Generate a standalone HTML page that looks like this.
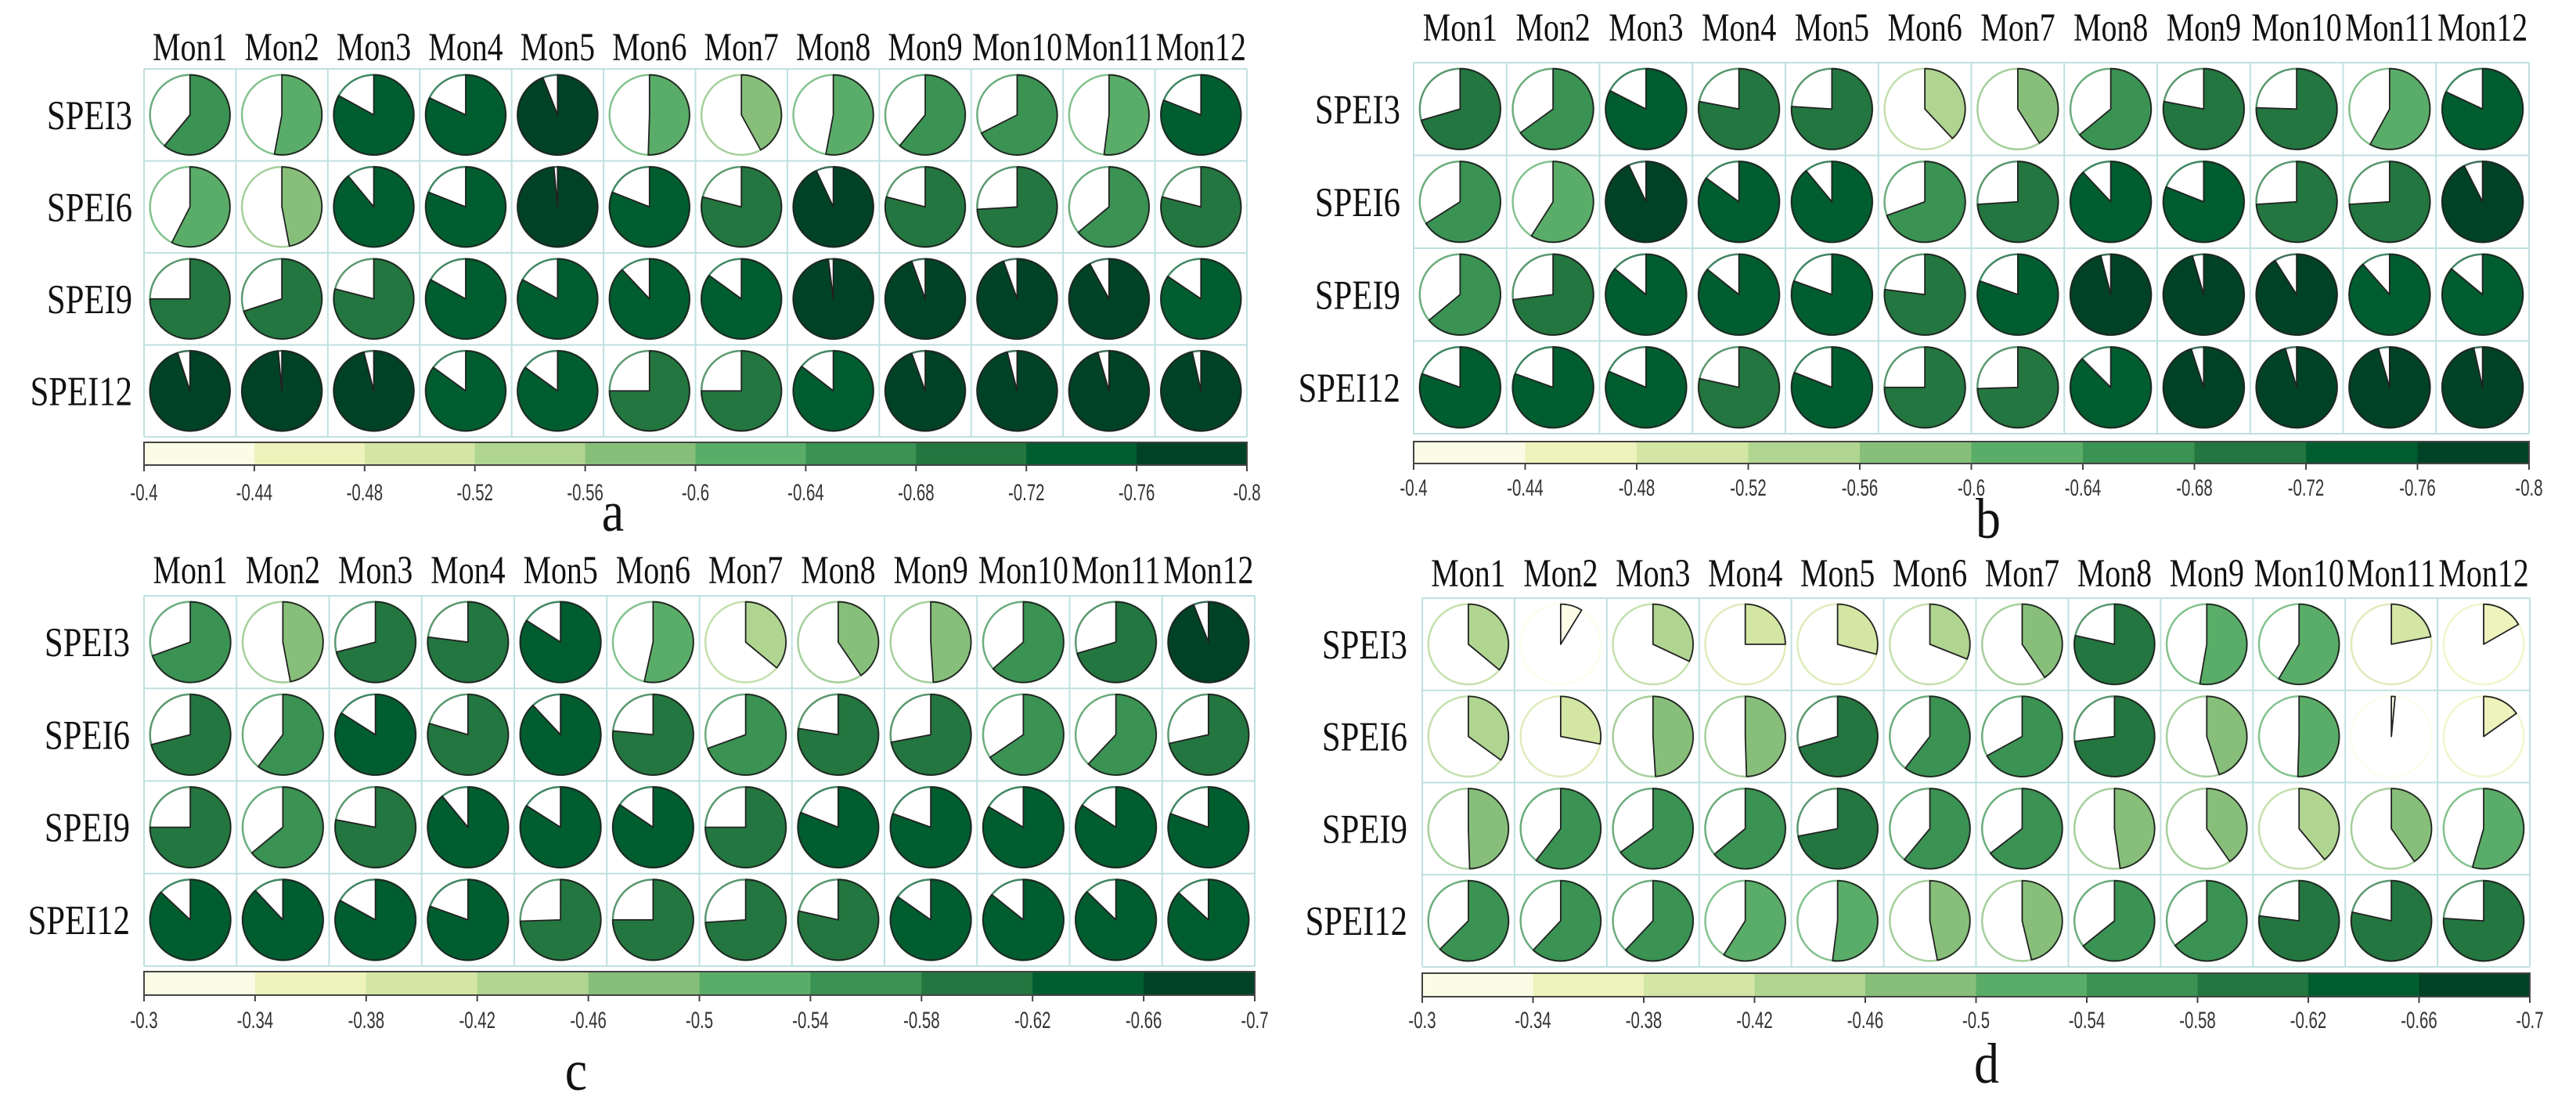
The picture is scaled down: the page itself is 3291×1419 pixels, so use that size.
<!DOCTYPE html>
<html><head><meta charset="utf-8">
<style>
html,body{margin:0;padding:0;background:#fff;}
svg{display:block;}
.ml{font-family:"Liberation Serif",serif;font-size:42px;fill:#111;}
.rl{font-family:"Liberation Serif",serif;font-size:44px;fill:#111;}
.tk{font-family:"Liberation Sans",sans-serif;font-size:24px;fill:#333;font-weight:bold;font-weight:500;}
.lt{font-family:"Liberation Serif",serif;font-size:64px;fill:#111;}
</style></head>
<body>
<svg id="fig" width="3291" height="1419" viewBox="0 0 3291 1419" xmlns="http://www.w3.org/2000/svg">
<rect width="3291" height="1419" fill="#fff"/>
</svg>
<script>
const months = ["Mon1","Mon2","Mon3","Mon4","Mon5","Mon6","Mon7","Mon8","Mon9","Mon10","Mon11","Mon12"];
const indices = ["SPEI3","SPEI6","SPEI9","SPEI12"];
const binColors = ["#fbfce6","#eef2bb","#d3e6a4","#b0d591","#87bf7a","#5aad68","#3a9253","#23763f","#005d2f","#004225"];
const ticksAB = ["-0.4","-0.44","-0.48","-0.52","-0.56","-0.6","-0.64","-0.68","-0.72","-0.76","-0.8"];
const ticksCD = ["-0.3","-0.34","-0.38","-0.42","-0.46","-0.5","-0.54","-0.58","-0.62","-0.66","-0.7"];

const a_spei3  = [-0.644,-0.612,-0.732,-0.728,-0.776,-0.602,-0.568,-0.612,-0.644,-0.670,-0.608,-0.724];
const a_spei6  = [-0.630,-0.588,-0.756,-0.724,-0.794,-0.724,-0.716,-0.772,-0.716,-0.696,-0.656,-0.716];
const a_spei9  = [-0.700,-0.680,-0.716,-0.732,-0.732,-0.752,-0.740,-0.792,-0.778,-0.778,-0.768,-0.738];
const a_spei12 = [-0.780,-0.794,-0.784,-0.740,-0.740,-0.700,-0.700,-0.742,-0.778,-0.784,-0.782,-0.786];

const b_spei3  = [-0.682,-0.660,-0.730,-0.712,-0.704,-0.552,-0.564,-0.656,-0.712,-0.702,-0.632,-0.728];
const b_spei6  = [-0.664,-0.636,-0.772,-0.740,-0.756,-0.678,-0.696,-0.752,-0.724,-0.696,-0.696,-0.770];
const b_spei9  = [-0.656,-0.692,-0.744,-0.743,-0.722,-0.708,-0.722,-0.784,-0.782,-0.764,-0.754,-0.744];
const b_spei12 = [-0.722,-0.722,-0.726,-0.714,-0.724,-0.700,-0.698,-0.750,-0.780,-0.782,-0.782,-0.786];

const c_spei3  = [-0.578,-0.488,-0.584,-0.608,-0.636,-0.514,-0.444,-0.462,-0.496,-0.554,-0.582,-0.676];
const c_spei6  = [-0.584,-0.542,-0.636,-0.618,-0.652,-0.606,-0.578,-0.610,-0.588,-0.562,-0.548,-0.586];
const c_spei9  = [-0.600,-0.556,-0.612,-0.656,-0.636,-0.638,-0.600,-0.624,-0.622,-0.634,-0.637,-0.622];
const c_spei12 = [-0.648,-0.652,-0.632,-0.622,-0.598,-0.600,-0.596,-0.614,-0.639,-0.643,-0.649,-0.647];

const d_spei3  = [-0.444,-0.335,-0.428,-0.400,-0.416,-0.424,-0.462,-0.614,-0.511,-0.534,-0.388,-0.367];
const d_spei6  = [-0.440,-0.412,-0.496,-0.498,-0.582,-0.542,-0.568,-0.592,-0.480,-0.502,-0.306,-0.361];
const d_spei9  = [-0.498,-0.542,-0.560,-0.556,-0.588,-0.544,-0.558,-0.491,-0.461,-0.456,-0.461,-0.518];
const d_spei12 = [-0.550,-0.548,-0.548,-0.536,-0.508,-0.488,-0.485,-0.557,-0.558,-0.608,-0.614,-0.604];

const NS = "http://www.w3.org/2000/svg";
const svg = document.getElementById("fig");
function mk(tag, attrs, parent){
  const e = document.createElementNS(NS, tag);
  for (const k in attrs) e.setAttribute(k, attrs[k]);
  (parent||svg).appendChild(e);
  return e;
}
function txt(parent, x, y, sx, sy, anchor, cls, s){
  const t = mk("text", {x:0, y:0, transform:"translate(" + x + "," + y + ") scale(" + sx + "," + sy + ")", "text-anchor":anchor, class:cls}, parent);
  t.textContent = s;
  return t;
}

const panels = [
  {id:"a", lo:0.4, hi:0.8, ticks:ticksAB, rows:[a_spei3,a_spei6,a_spei9,a_spei12],
   gx0:184, gx1:1593, gy0:88, gy1:558, cb0:565, cb1:594, tickY:639, colY:77, rowR:169, lx:783, ly:678},
  {id:"b", lo:0.4, hi:0.8, ticks:ticksAB, rows:[b_spei3,b_spei6,b_spei9,b_spei12],
   gx0:1806, gx1:3231, gy0:80, gy1:554, cb0:564, cb1:592, tickY:633, colY:52, rowR:1789, lx:2540, ly:687},
  {id:"c", lo:0.3, hi:0.7, ticks:ticksCD, rows:[c_spei3,c_spei6,c_spei9,c_spei12],
   gx0:184, gx1:1603, gy0:761, gy1:1234, cb0:1241, cb1:1271, tickY:1313, colY:745, rowR:166, lx:736, ly:1392},
  {id:"d", lo:0.3, hi:0.7, ticks:ticksCD, rows:[d_spei3,d_spei6,d_spei9,d_spei12],
   gx0:1817, gx1:3232, gy0:764, gy1:1235, cb0:1243, cb1:1273, tickY:1313, colY:749, rowR:1798, lx:2538, ly:1383}
];

function colorFor(p, v){
  const t = (Math.abs(v) - p.lo) / (p.hi - p.lo);
  let b = Math.floor(t * binColors.length);
  b = Math.max(0, Math.min(binColors.length - 1, b));
  return binColors[b];
}
function fracFor(p, v){
  const t = (Math.abs(v) - p.lo) / (p.hi - p.lo);
  return Math.max(0, Math.min(1, t));
}

panels.forEach(p => {
  const g = mk("g", {});
  
  
  const cw = (p.gx1 - p.gx0) / months.length;
  const rh = (p.gy1 - p.gy0) / indices.length;
  const xCenter = i => p.gx0 + cw * (i + 0.5);
  const yCenter = j => p.gy0 + rh * (j + 0.5);
  const r = Math.min(cw, rh) * 0.435;

  const grid = mk("g", {stroke:"#bfe0e0", "stroke-width":2, fill:"none"}, g);
  
  
  for (let i = 0; i <= months.length; i++) {
    const x = p.gx0 + cw * i;
    mk("line", {x1:x, y1:p.gy0, x2:x, y2:p.gy1}, grid);
  }
  for (let j = 0; j <= indices.length; j++) {
    const y = p.gy0 + rh * j;
    mk("line", {x1:p.gx0, y1:y, x2:p.gx1, y2:y}, grid);
  }

  months.forEach((m, i) => {
    const t = txt(g, xCenter(i), p.colY, 0.95, 1.2, "middle", "ml", m);
    
    
  });
  indices.forEach((s, j) => {
    const t = txt(g, p.rowR, yCenter(j) + 18, 0.97, 1.2, "end", "rl", s);
    
    
  });

  p.rows.forEach((vals, j) => {
    vals.forEach((v, i) => {
      const cx = xCenter(i), cy = yCenter(j);
      const col = colorFor(p, v);
      const f = fracFor(p, v);
      const pg = mk("g", {}, g);
      
      
      mk("circle", {cx:cx, cy:cy, r:r, fill:"#fff", stroke:col, "stroke-width":2.5, "stroke-opacity":0.75}, pg);
      if (f >= 0.999) {
        mk("circle", {cx:cx, cy:cy, r:r, fill:col, stroke:"#222", "stroke-width":1.8}, pg);
      } else if (f > 0.001) {
        const a = 2 * Math.PI * f;
        const x = cx + r * Math.sin(a), y = cy - r * Math.cos(a);
        const large = f > 0.5 ? 1 : 0;
        const d = "M" + cx + "," + cy + " L" + cx + "," + (cy - r) + " A" + r + "," + r + " 0 " + large + " 1 " + x.toFixed(2) + "," + y.toFixed(2) + " Z";
        mk("path", {d:d, fill:col, stroke:"#222", "stroke-width":1.8, "stroke-linejoin":"round"}, pg);
      }
    });
  });

  const cb = mk("g", {}, g);
  
  
  const bw = (p.gx1 - p.gx0) / binColors.length;
  binColors.forEach((c, k) => {
    mk("rect", {x:p.gx0 + bw * k, y:p.cb0, width:bw + 0.5, height:p.cb1 - p.cb0, fill:c}, cb);
  });
  mk("rect", {x:p.gx0, y:p.cb0, width:p.gx1 - p.gx0, height:p.cb1 - p.cb0, fill:"none", stroke:"#444", "stroke-width":2}, cb);
  const tstep = (p.gx1 - p.gx0) / (p.ticks.length - 1);
  p.ticks.forEach((lab, k) => {
    const x = p.gx0 + tstep * k;
    mk("line", {x1:x, y1:p.cb1, x2:x, y2:p.cb1 + 8, stroke:"#444", "stroke-width":2}, cb);
    const t = txt(cb, x, p.tickY, 0.85, 1.25, "middle", "tk", lab);
    
    
  });

  const lt = txt(g, p.lx, p.ly, 1, 1.15, "middle", "lt", p.id);
  
  
});
</script>
</body></html>
